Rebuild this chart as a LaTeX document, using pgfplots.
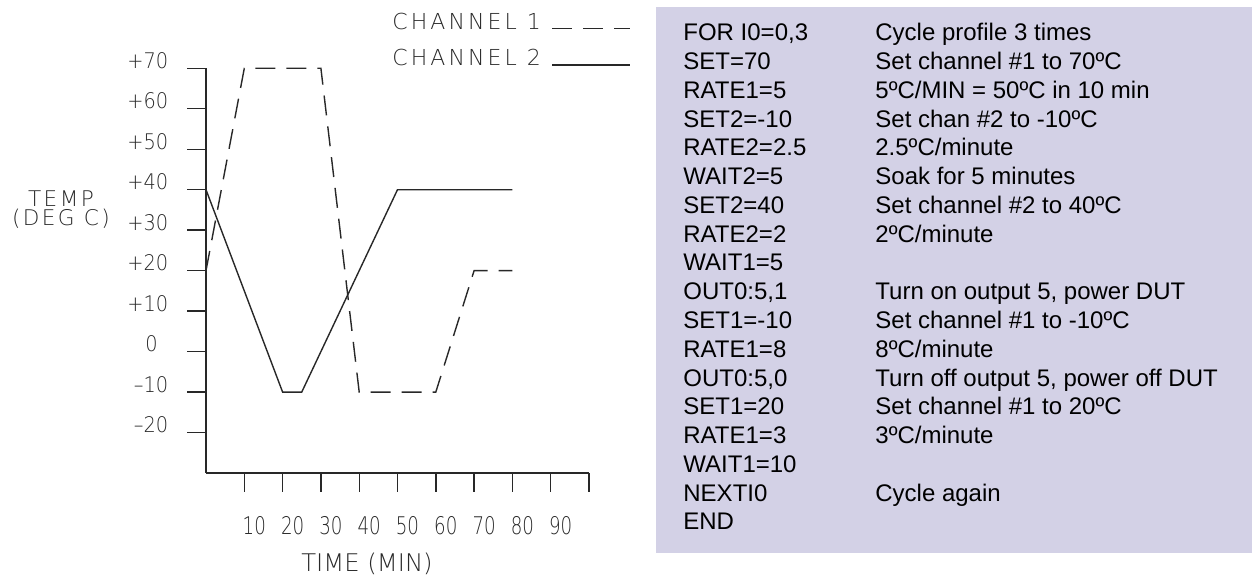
\documentclass[border=0pt]{standalone}
\usepackage{pgfplots}
\pgfplotsset{compat=1.18}
\usepackage{fontspec}
\setmainfont{Liberation Sans}
\IfFontExistsTF{DejaVu Sans ExtraLight}
 {\newfontfamily\plotfont[LetterSpace=14]{DejaVu Sans ExtraLight}
  \newfontfamily\plotlab[LetterSpace=11]{DejaVu Sans ExtraLight}
  \newfontfamily\plotplain{DejaVu Sans ExtraLight}
  \newfontfamily\plotnum[FakeStretch=0.9]{DejaVu Sans ExtraLight}
  \newfontfamily\plotnarrow[FakeStretch=0.75]{DejaVu Sans ExtraLight}}
 {\newfontfamily\plotfont[LetterSpace=14]{DejaVu Sans}
  \newfontfamily\plotlab[LetterSpace=11]{DejaVu Sans}
  \newfontfamily\plotplain{DejaVu Sans}
  \newfontfamily\plotnum[FakeStretch=0.9]{DejaVu Sans}
  \newfontfamily\plotnarrow[FakeStretch=0.75]{DejaVu Sans}}
\definecolor{boxfill}{RGB}{211,209,230}
\definecolor{ink}{RGB}{40,40,40}

\begin{document}
\begin{tikzpicture}
\useasboundingbox (0,0) rectangle (626pt,288pt);
\fill[boxfill] (327.75pt,11.5pt) rectangle (626pt,284.35pt);
\node[anchor=base west, inner sep=0pt, font=\fontsize{12pt}{14.39pt}\selectfont] at (341.5pt,267.65pt) {%
\begin{tabular}[t]{@{}l@{}l@{}}
\makebox[96pt][l]{FOR I0=0,3} & Cycle profile 3 times\\
\makebox[96pt][l]{SET=70} & Set channel \#1 to 70ºC\\
\makebox[96pt][l]{RATE1=5} & 5ºC/MIN = 50ºC in 10 min\\
\makebox[96pt][l]{SET2=-10} & Set chan \#2 to -10ºC\\
\makebox[96pt][l]{RATE2=2.5} & 2.5ºC/minute\\
\makebox[96pt][l]{WAIT2=5} & Soak for 5 minutes\\
\makebox[96pt][l]{SET2=40} & Set channel \#2 to 40ºC\\
\makebox[96pt][l]{RATE2=2} & 2ºC/minute\\
\makebox[96pt][l]{WAIT1=5} & \\
\makebox[96pt][l]{OUT0:5,1} & Turn on output 5, power DUT\\
\makebox[96pt][l]{SET1=-10} & Set channel \#1 to -10ºC\\
\makebox[96pt][l]{RATE1=8} & 8ºC/minute\\
\makebox[96pt][l]{OUT0:5,0} & Turn off output 5, power off DUT\\
\makebox[96pt][l]{SET1=20} & Set channel \#1 to 20ºC\\
\makebox[96pt][l]{RATE1=3} & 3ºC/minute\\
\makebox[96pt][l]{WAIT1=10} & \\
\makebox[96pt][l]{NEXTI0} & Cycle again\\
\makebox[96pt][l]{END} & \\
\end{tabular}};
\begin{axis}[
  at={(103pt,51.5pt)}, anchor=south west,
  scale only axis, width=191.5pt, height=202.35pt,
  xmin=0, xmax=100, ymin=-30, ymax=70,
  clip=false,
  axis x line=bottom, axis y line=left,
  axis line style={-, draw=ink, line width=0.7pt},
  every outer x axis line/.append style={-},
  every outer y axis line/.append style={-},
  tick align=outside, major tick length=9.5pt,
  tick style={draw=ink, line width=0.7pt},
  xtick={10,20,...,100}, xticklabels={10,20,30,40,50,60,70,80,90,{}},
  ytick={-20,-10,...,70},
  yticklabels={–20,–10,0\kern5.25pt,+10,+20,+30,+40,+50,+60,+70},
  xticklabel style={anchor=base west, inner sep=0pt, text=ink, xshift=-1pt, yshift=-21.15pt,
    font=\plotnarrow\fontsize{12.15pt}{14pt}\selectfont},
  yticklabel style={anchor=base east, inner sep=0pt, text=ink, xshift=-9.2pt,
    font=\plotnum\fontsize{10.75pt}{12pt}\selectfont},
  xlabel={TIME (MIN)},
  xlabel style={at={(axis description cs:0.4204,0)}, anchor=base, yshift=-49.5pt,
    inner sep=0pt, text=ink, font=\plotplain\fontsize{12.15pt}{14pt}\selectfont},
  ylabel={TEMP\\(DEG C)},
  ylabel style={rotate=-90, at={(axis description cs:-0.3786,0.651)}, anchor=center,
    align=center, inner sep=0pt, text=ink,
    font=\plotlab\fontsize{10.8pt}{9.6pt}\selectfont},
  legend entries={CHANNEL 1, CHANNEL 2},
  legend plot pos=right,
  legend cell align=left,
  legend image code/.code={\draw[#1] (0pt,-3pt) -- (39pt,-3pt);},
  legend style={at={(axis description cs:0.4752,1.1476)}, anchor=north west,
    draw=none, fill=none, inner sep=0pt, text=ink,
    font=\plotfont\fontsize{11pt}{12pt}\selectfont,
    row sep=4.5pt, column sep=3.2pt},
]
\addplot[ink, line width=0.7pt, dash pattern=on 10pt off 5.5pt]
  coordinates {(0,20) (10,70) (30,70) (40,-10) (60,-10) (70,20) (80,20)};
\addplot[ink, line width=0.7pt]
  coordinates {(0,40) (20,-10) (25,-10) (50,40) (80,40)};
\end{axis}
\end{tikzpicture}
\end{document}
